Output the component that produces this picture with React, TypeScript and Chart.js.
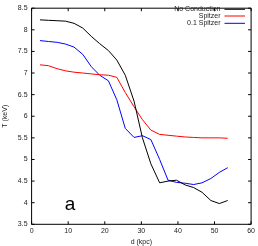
import React, { useEffect, useRef } from "react";
import { Chart, registerables } from "chart.js";

Chart.register(...registerables);

const distances = [2.3, 4.6, 7.0, 9.3, 11.6, 14.0, 16.3, 18.6, 21.0, 23.3, 25.6, 28.0, 30.3, 32.6, 35.0, 37.3, 39.6, 42.0, 44.3, 46.6, 49.0, 51.3, 53.6];
const noConduction = [8.23, 8.22, 8.21, 8.2, 8.15, 8.04, 7.85, 7.68, 7.52, 7.3, 6.95, 6.35, 5.5, 4.9, 4.46, 4.5, 4.52, 4.41, 4.35, 4.24, 4.05, 3.98, 4.05];
const spitzer = [7.19, 7.17, 7.1, 7.05, 7.02, 7.0, 6.98, 6.96, 6.95, 6.9, 6.55, 6.22, 5.92, 5.68, 5.58, 5.56, 5.54, 5.52, 5.51, 5.5, 5.5, 5.5, 5.49];
const tenthSpitzer = [7.75, 7.73, 7.71, 7.67, 7.6, 7.43, 7.15, 6.95, 6.82, 6.38, 5.72, 5.51, 5.55, 5.46, 5.0, 4.52, 4.47, 4.45, 4.42, 4.46, 4.56, 4.7, 4.81];

const seriesNames = ["No Conduction", "Spitzer", "0.1 Spitzer"];
const seriesColors = ["#000000", "#ff0000", "#0000ff"];
const xTitle = "d (kpc)";
const yTitle = "T (keV)";
const panelLabel = "a";
const panelLabelPos = { x: 10.5, y: 3.97 };

const FONT = "'Liberation Sans', Arial, sans-serif";

const framePlugin = {
  id: "frame",
  afterDraw(chart: any) {
    const { ctx, chartArea: a, scales } = chart;
    const xs = scales.x;
    const ys = scales.y;
    ctx.save();
    ctx.strokeStyle = "#000";
    ctx.lineWidth = 1;
    ctx.beginPath();
    ctx.rect(a.left, a.top, a.right - a.left, a.bottom - a.top);
    ctx.stroke();
    const tl = 3;
    ctx.beginPath();
    for (let v = 0; v <= 60; v += 10) {
      const px = xs.getPixelForValue(v);
      ctx.moveTo(px, a.bottom);
      ctx.lineTo(px, a.bottom - tl);
      ctx.moveTo(px, a.top);
      ctx.lineTo(px, a.top + tl);
    }
    for (let v = 3.5; v <= 8.5001; v += 0.5) {
      const py = ys.getPixelForValue(v);
      ctx.moveTo(a.left, py);
      ctx.lineTo(a.left + tl, py);
      ctx.moveTo(a.right, py);
      ctx.lineTo(a.right - tl, py);
    }
    ctx.stroke();

    // axis titles
    ctx.fillStyle = "#222";
    ctx.font = `7px ${FONT}`;
    ctx.textAlign = "center";
    ctx.textBaseline = "middle";
    ctx.fillText(xTitle, (a.left + a.right) / 2, 242.5);
    ctx.save();
    ctx.translate(5, (a.top + a.bottom) / 2);
    ctx.rotate(-Math.PI / 2);
    ctx.fillText(yTitle, 0, 0);
    ctx.restore();

    // legend
    const rows = [9.3, 16, 23.3];
    ctx.textAlign = "right";
    ctx.font = `7px ${FONT}`;
    seriesNames.forEach((n, i) => {
      ctx.fillStyle = "#222";
      ctx.fillText(n, 220.5, rows[i]);
      ctx.strokeStyle = seriesColors[i];
      ctx.beginPath();
      ctx.moveTo(224.5, rows[i]);
      ctx.lineTo(245, rows[i]);
      ctx.stroke();
    });

    // panel label
    ctx.fillStyle = "#000";
    ctx.font = `19px ${FONT}`;
    ctx.textAlign = "center";
    ctx.textBaseline = "alphabetic";
    ctx.fillText(panelLabel, xs.getPixelForValue(panelLabelPos.x), ys.getPixelForValue(panelLabelPos.y) + 6);
    ctx.restore();
  },
};

export default function App() {
  const ref = useRef<HTMLCanvasElement>(null);
  useEffect(() => {
    document.body.style.margin = "0";
    const mk = (vals: number[]) => distances.map((d, i) => ({ x: d, y: vals[i] }));
    const allSeries = [noConduction, spitzer, tenthSpitzer];
    const chart = new Chart(ref.current!, {
      type: "line",
      data: {
        datasets: allSeries.map((vals, i) => ({
          label: seriesNames[i],
          data: mk(vals),
          borderColor: seriesColors[i],
          borderWidth: 1,
          pointRadius: 0,
          tension: 0,
          fill: false,
        })),
      },
      options: {
        animation: false,
        responsive: false,
        maintainAspectRatio: false,
        layout: { padding: { top: 3, right: 5, left: 0, bottom: 0 } },
        plugins: { legend: { display: false }, tooltip: { enabled: false } },
        scales: {
          x: {
            type: "linear",
            min: 0,
            max: 60,
            grid: { display: false, drawTicks: false },
            border: { display: false },
            ticks: { stepSize: 10, font: { size: 7, family: FONT }, color: "#222", padding: 3, maxRotation: 0 },
            afterFit: (s: any) => { s.height = 21.7; },
          },
          y: {
            min: 3.5,
            max: 8.5,
            grid: { display: false, drawTicks: false },
            border: { display: false },
            ticks: { stepSize: 0.5, font: { size: 7, family: FONT }, color: "#222", padding: 4, callback: (v: any) => String(v) },
            afterFit: (s: any) => { s.width = 31.6; },
          },
        },
      },
      plugins: [framePlugin],
    });
    return () => chart.destroy();
  }, []);
  return (
    <div style={{ width: 258, height: 246 }}>
      <canvas ref={ref} width={258} height={246} style={{ display: "block" }} />
    </div>
  );
}
